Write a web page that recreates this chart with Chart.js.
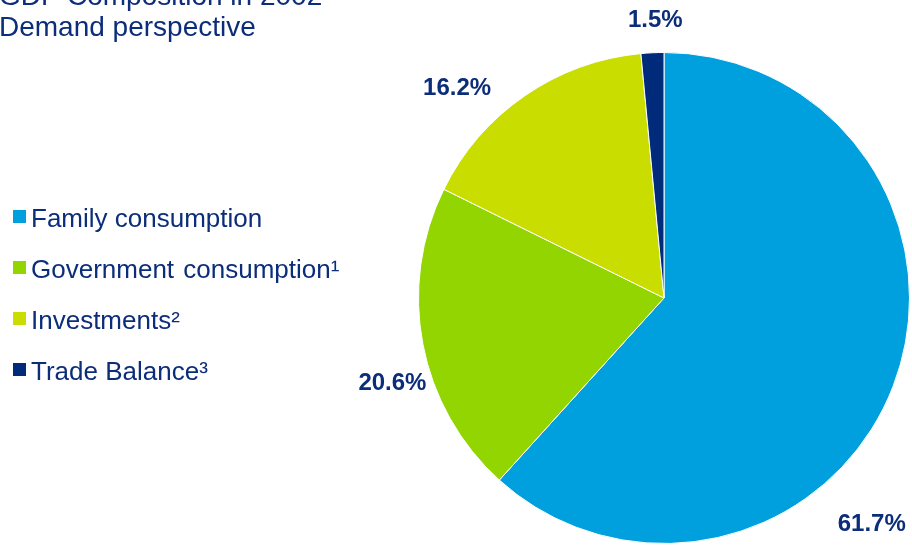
<!DOCTYPE html>
<html>
<head>
<meta charset="utf-8">
<script src="https://cdn.jsdelivr.net/npm/chart.js@4/dist/chart.umd.min.js"></script>
<style>
	html, body { margin: 0; padding: 0; background: #fff; overflow: hidden; }
	body { width: 912px; height: 545px; position: relative; font-family: "Liberation Sans", Arial, sans-serif; color: #0b2d7a; }
	#wrap { position: absolute; left: 0; top: 0; width: 912px; height: 545px; }
	.title { position: absolute; left: -1px; top: -20px; font-size: 28px; line-height: 31px; white-space: nowrap; }
	.legend { position: absolute; left: 13px; top: 203px; }
	.legend .row { height: 51px; display: flex; align-items: flex-start; font-size: 26px; line-height: 30px; white-space: nowrap; }
	.legend .box { width: 13px; height: 13px; margin: 7px 5px 0 0; flex: none; }
</style>
</head>
<body>
<div id="wrap"><canvas id="pie" width="912" height="545"></canvas></div>
<div class="title">GDP Composition in 2002<br>Demand perspective</div>
<div class="legend" id="legend"></div>
<script>
(function () {
	'use strict';

	var categories = ['Family consumption', 'Government consumption\u00b9', 'Investments\u00b2', 'Trade Balance\u00b3'];
	var shares     = [61.7, 20.6, 16.2, 1.5];
	var colors     = ['#00a0de', '#93d500', '#c9dd00', '#002a7a'];

	// where each percentage label sits: angle (deg, canvas coords) and distance as a multiple of the radius
	var labelSpots = [[47.4, 1.25], [162.5, 1.16], [-134.6, 1.2], [-91.8, 1.13]];

	var legend = document.getElementById('legend');
	categories.forEach(function (name, i) {
		var row = document.createElement('div');
		row.className = 'row';
		var box = document.createElement('span');
		box.className = 'box';
		box.style.background = colors[i];
		var txt = document.createElement('span');
		txt.textContent = name;
		if (i === 1) txt.style.wordSpacing = '2px';
		row.appendChild(box);
		row.appendChild(txt);
		legend.appendChild(row);
	});

	var pctLabels = {
		id: 'pctLabels',
		afterDatasetsDraw: function (chart) {
			var ctx = chart.ctx;
			var arcs = chart.getDatasetMeta(0).data;
			ctx.save();
			ctx.font = 'bold 24px "Liberation Sans", Arial, sans-serif';
			ctx.fillStyle = '#0b2d7a';
			ctx.textAlign = 'center';
			ctx.textBaseline = 'middle';
			arcs.forEach(function (arc, i) {
				var spot = labelSpots[i];
				var a = spot[0] * Math.PI / 180;
				var r = arc.outerRadius * spot[1];
				ctx.fillText(shares[i].toFixed(1) + '%', arc.x + Math.cos(a) * r, arc.y + Math.sin(a) * r);
			});
			ctx.restore();
		}
	};

	new Chart(document.getElementById('pie'), {
		type: 'pie',
		data: {
			labels: categories,
			datasets: [{
				data: shares,
				backgroundColor: colors,
				borderColor: '#ffffff',
				borderWidth: 1
			}]
		},
		options: {
			responsive: false,
			animation: false,
			layout: { padding: { left: 418, right: 2, top: 52, bottom: 1 } },
			plugins: {
				legend: { display: false },
				tooltip: { enabled: false }
			}
		},
		plugins: [pctLabels]
	});
})();
</script>
</body>
</html>
